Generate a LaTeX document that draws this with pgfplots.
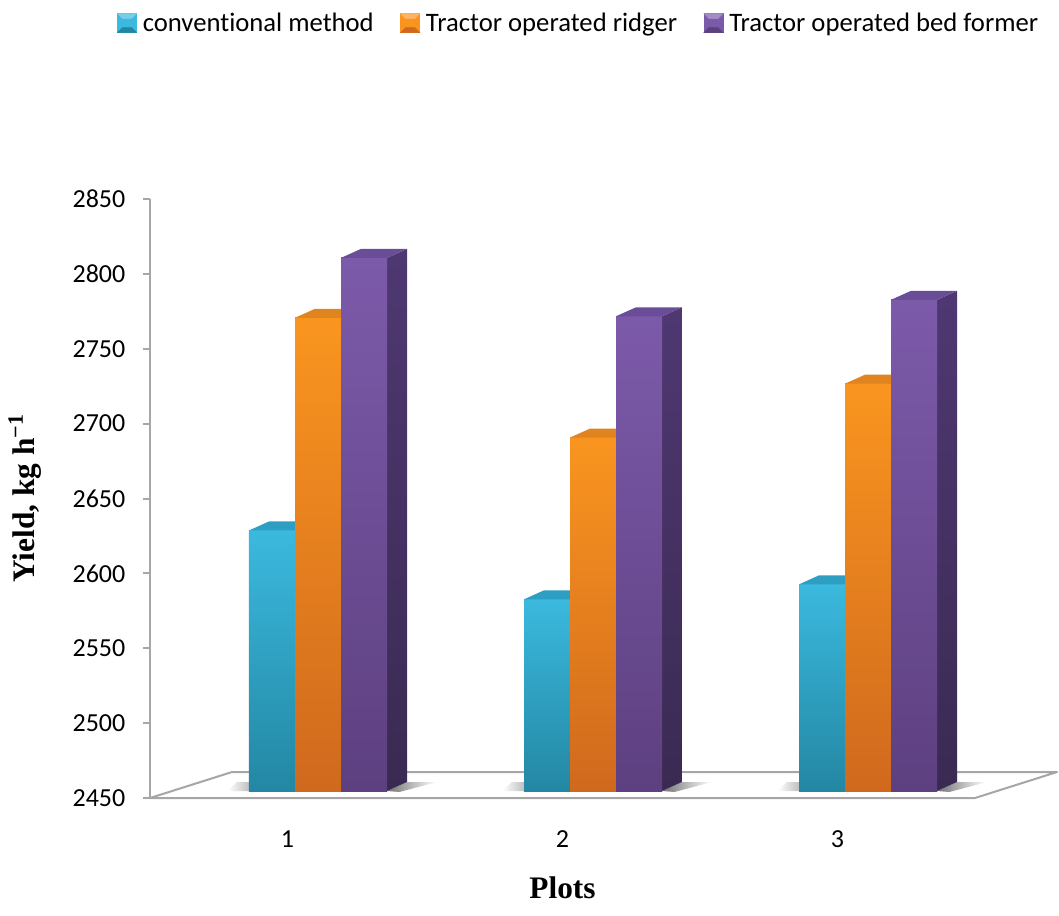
\documentclass[border=0pt]{standalone}
\usepackage{pgfplots}
\usepackage{pgfplotstable}
\pgfplotsset{compat=1.18}
\usepackage{fontspec}
\setmainfont{Carlito}[Ligatures=NoCommon]
\newfontfamily\labelfont{Liberation Serif}

\definecolor{axisgray}{HTML}{A6A6A6}
\definecolor{cyanT}{HTML}{3BB9DE}
\definecolor{cyanB}{HTML}{2387A3}
\definecolor{cyanTop}{HTML}{2E9FC2}
\definecolor{orangeT}{HTML}{F9951F}
\definecolor{orangeB}{HTML}{D0691E}
\definecolor{orangeTop}{HTML}{E0841F}
\definecolor{purpleT}{HTML}{7C5AAA}
\definecolor{purpleB}{HTML}{5D4080}
\definecolor{purpleTop}{HTML}{6A4D97}
\definecolor{purpleSideT}{HTML}{4F3872}
\definecolor{purpleSideB}{HTML}{3A2A52}

% yield per plot and method
\pgfplotstableread{
plot conv ridger bed
1 2624 2766 2806
2 2578 2686 2767
3 2588 2722 2778
}\yielddata

% a 3D column hangs from its data point (top front edge) down to the floor;
% 1.123125pt per kg/ha on the value axis
\newcommand\columnbase{%
  \begingroup
  \pgfkeys{/pgf/fpu=true,/pgf/fpu/output format=fixed}%
  \pgfmathparse{5.25-(\barval-2450)*1.123125}\global\let\yb\pgfmathresult
  \pgfmathparse{5.25-(\barval-2450)*1.123125+6.75}\global\let\ybb\pgfmathresult
  \pgfmathparse{5.25-(\barval-2450)*1.123125-0.75}\global\let\ybs\pgfmathresult
  \endgroup}
\pgfdeclareplotmark{colcyan}{%
  \columnbase
  % faint shadow left of the group
  \shade[draw=none,left color=white,right color=black!25] (-45pt,\yb pt) -- (-28.875pt,\yb pt) -- (-28.875pt,\ybb pt) -- (-38pt,\ybb pt) -- cycle;
  \shade[draw=none,top color=cyanT,bottom color=cyanB] (-28.875pt,\yb pt) rectangle (5.625pt,5.25pt);
  \fill[draw=none,cyanTop] (-28.875pt,5.25pt) -- (5.625pt,5.25pt) -- (20.625pt,12pt) -- (-13.875pt,12pt) -- cycle;
}
\pgfdeclareplotmark{colorange}{%
  \columnbase
  \shade[draw=none,top color=orangeT,bottom color=orangeB] (5.625pt,\yb pt) rectangle (40.125pt,5.25pt);
  \fill[draw=none,orangeTop] (5.625pt,5.25pt) -- (40.125pt,5.25pt) -- (55.125pt,12pt) -- (20.625pt,12pt) -- cycle;
}
\pgfdeclareplotmark{colpurple}{%
  \columnbase
  % shadow on the floor
  \shade[draw=none,left color=black!55,right color=white] (74.625pt,\yb pt) -- (89.625pt,\ybb pt) -- (112pt,\ybb pt) -- (84pt,\ybs pt) -- cycle;
  % side face
  \shade[draw=none,top color=purpleSideT,bottom color=purpleSideB] (74.625pt,\yb pt) -- (89.625pt,\ybb pt) -- (89.625pt,12pt) -- (74.625pt,5.25pt) -- cycle;
  \shade[draw=none,top color=purpleT,bottom color=purpleB] (40.125pt,\yb pt) rectangle (74.625pt,5.25pt);
  \fill[draw=none,purpleTop] (40.125pt,5.25pt) -- (74.625pt,5.25pt) -- (89.625pt,12pt) -- (55.125pt,12pt) -- cycle;
}
% bevelled square for the legend
\newcommand\legicon[3]{%
  \fill[#2] (0pt,-7pt) rectangle (14.25pt,7.25pt);
  \fill[#1] (0pt,7.25pt) -- (14.25pt,7.25pt) -- (10.5pt,3.5pt) -- (3.75pt,3.5pt) -- cycle;
  \fill[#3] (0pt,-7pt) -- (14.25pt,-7pt) -- (10.5pt,-3.25pt) -- (3.75pt,-3.25pt) -- cycle;
}

\begin{document}
\begin{tikzpicture}
\begin{axis}[
  scale only axis, width=618.75pt, height=449.25pt,
  xmin=0.5, xmax=3.5, ymin=2450, ymax=2850,
  clip=false,
  axis lines*=left,
  x axis line style={draw=none},
  y axis line style={draw=axisgray, line width=1.5pt},
  xtick={1,2,3}, ytick={2450,2500,...,2850},
  x tick style={draw=none},
  y tick style={draw=axisgray, line width=1.5pt},
  tick align=outside, major tick length=5.25pt,
  scaled y ticks=false,
  /pgf/number format/1000 sep={},
  /pgf/number format/assume math mode=true,
  ticklabel style={font=\fontsize{19.5}{23.4}\selectfont},
  xticklabel style={yshift=-16pt},
  yticklabel style={xshift=-9.75pt},
  xlabel={Plots},
  ylabel={Yield, kg h\textsuperscript{−1}},
  label style={font=\labelfont\bfseries\fontsize{23.5}{28}\selectfont},
  xlabel style={at={(axis description cs:0.5,-0.1503)}, anchor=center},
  ylabel style={at={(axis description cs:-0.1515,0.5)}, anchor=center},
  legend style={at={(axis description cs:-0.04,1.3155)}, anchor=north west,
    draw=none, fill=none, legend columns=3, inner sep=0pt,
    font=\fontsize{20}{24}\selectfont,
    /tikz/every odd column/.append style={column sep=2.5pt},
    /tikz/every even column/.append style={column sep=18pt}},
  legend cell align=left,
]
% floor of the chart
\addplot[forget plot, draw=axisgray, line width=1.5pt, fill=white, line join=round]
  coordinates {(0.5,2450) (3.5,2450) (3.7982,2467.36) (0.7982,2467.36)} -- cycle;
\coordinate (O) at (axis cs:0.5,2450);

\addplot[forget plot, only marks, mark=colcyan, visualization depends on={rawy \as \barval}]
  table[x=plot, y=conv] {\yielddata};
\addplot[forget plot, only marks, mark=colorange, visualization depends on={rawy \as \barval}]
  table[x=plot, y=ridger] {\yielddata};
\addplot[forget plot, only marks, mark=colpurple, visualization depends on={rawy \as \barval}]
  table[x=plot, y=bed] {\yielddata};

\addlegendimage{legend image code/.code={\legicon{cyanT!70!white}{cyanT}{cyanB}}}
\addlegendentry{conventional method}
\addlegendimage{legend image code/.code={\legicon{orangeT!70!white}{orangeT}{orangeB}}}
\addlegendentry{Tractor operated ridger}
\addlegendimage{legend image code/.code={\legicon{purpleT!70!white}{purpleT}{purpleB}}}
\addlegendentry{Tractor operated bed former}
\end{axis}
\pgfresetboundingbox
\path[use as bounding box] (O) ++(-112.5pt,-87.75pt) rectangle ++(794.25pt,686.25pt);
\end{tikzpicture}
\end{document}
